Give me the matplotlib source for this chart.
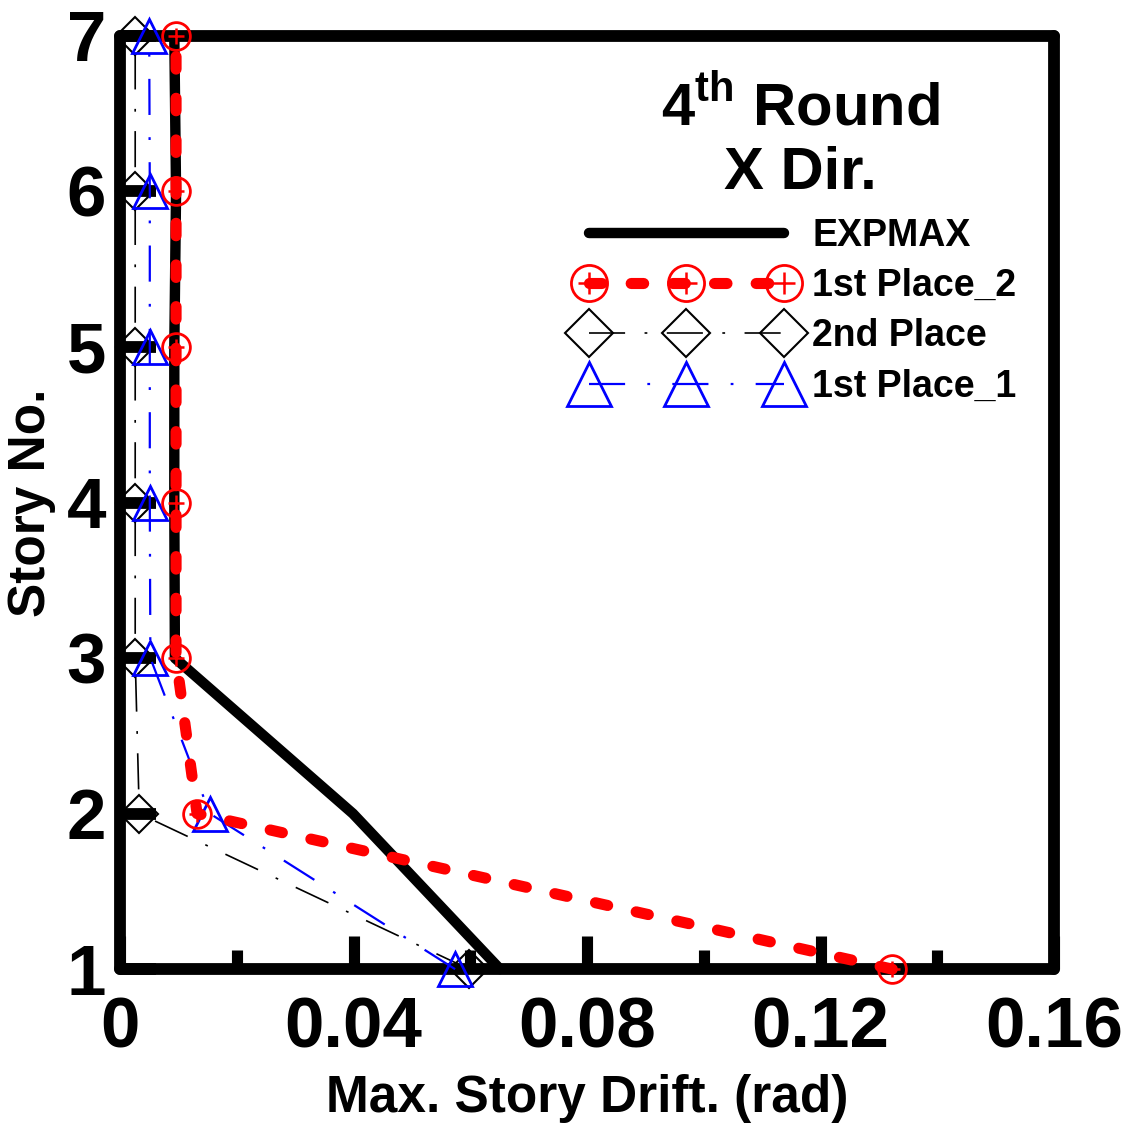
import numpy as np
import matplotlib.pyplot as plt
from matplotlib.ticker import MultipleLocator

plt.rcParams['font.family'] = ['Liberation Sans', 'DejaVu Sans']
plt.rcParams['font.weight'] = 'bold'
plt.rcParams['mathtext.fontset'] = 'custom'
plt.rcParams['mathtext.rm'] = 'Liberation Sans:bold'
plt.rcParams['mathtext.bf'] = 'Liberation Sans:bold'
plt.rcParams['lines.scale_dashes'] = False

# data (story drift in rad)
story = [1, 2, 3, 4, 5, 6, 7]
expmax = [0.0651, 0.0399, 0.0094, 0.0093, 0.0093, 0.0096, 0.0093]
first_2 = [0.1323, 0.0132, 0.0096, 0.0096, 0.0096, 0.0096, 0.0096]
second = [0.0598, 0.0033, 0.0026, 0.0026, 0.0026, 0.0026, 0.0026]
first_1 = [0.0574, 0.0154, 0.0052, 0.0051, 0.0051, 0.0051, 0.0050]

fig = plt.figure(figsize=(11.28, 11.23), dpi=100)
ax = fig.add_axes([0.1064, 0.137, 0.8280, 0.831])

# EXPMAX
l0, = ax.plot(expmax, story, color='black', lw=7.5, solid_capstyle='round',
              label='EXPMAX', zorder=3, clip_on=False)

# 2nd Place
l2, = ax.plot(second, story, color='black', lw=1.2, marker='D', ms=19,
              mfc='none', mec='black', mew=1.5, label='2nd Place',
              zorder=4, clip_on=False)
l2.set_dashes([26, 14, 2, 14])

# 1st Place_1
l1, = ax.plot(first_1, story, color='blue', lw=1.6, marker='^', ms=24,
              mfc='none', mec='blue', mew=2, label='1st Place_1',
              zorder=5, clip_on=False)
l1.set_dashes([26, 16, 2, 16])

# 1st Place_2
l3, = ax.plot(first_2, story, color='red', lw=8, marker='o', ms=20,
              mfc='none', mec='red', mew=2, dash_capstyle='round',
              label='1st Place_2', zorder=6, clip_on=False)
l3.set_dashes([9, 21])
lp, = ax.plot(first_2, story, ls='none', marker='+', ms=12, mew=1.8,
              color='red', zorder=7, clip_on=False)

ax.set_xlim(0, 0.16)
ax.set_ylim(1, 7)

for s in ax.spines.values():
    s.set_linewidth(8.5)
    s.set_capstyle('round')

ax.xaxis.set_minor_locator(MultipleLocator(0.02))
ax.yaxis.set_major_locator(MultipleLocator(1))
ax.set_xticks([0, 0.04, 0.08, 0.12, 0.16])
ax.set_xticklabels(['0', '0.04', '0.08', '0.12', '0.16'])
ax.tick_params(axis='x', which='major', direction='in', length=24, width=8,
               labelsize=51, pad=20, top=False)
ax.tick_params(axis='x', which='minor', direction='in', length=14, width=8,
               top=False)
ax.tick_params(axis='y', which='major', direction='in', length=26, width=8.5,
               labelsize=51, pad=10, right=False)
for lab in ax.get_xticklabels() + ax.get_yticklabels():
    lab.set_fontweight('bold')

ax.set_xlabel('Max. Story Drift. (rad)', fontsize=37, fontweight='bold', labelpad=8)
ax.set_ylabel('Story No.', fontsize=37, fontweight='bold', labelpad=8)

ax.text(0.728, 0.924, r'4$^{\mathbf{th}}$ Round', transform=ax.transAxes,
        ha='center', va='center', fontsize=43, fontweight='bold')
ax.text(0.728, 0.853, 'X Dir.', transform=ax.transAxes,
        ha='center', va='center', fontsize=43, fontweight='bold')

handles = [l0, (l3, lp), l2, l1]
leg = ax.legend(handles=handles,
                labels=['EXPMAX', '1st Place_2', '2nd Place', '1st Place_1'],
                loc='upper left', bbox_to_anchor=(0.47, 0.825), frameon=False,
                fontsize=27, numpoints=3, handlelength=5.8, handletextpad=0.45,
                labelspacing=0.38, borderpad=0, markerscale=1.3)
for t in leg.get_texts():
    t.set_fontweight('bold')

fig.savefig('out.png', dpi=100)
